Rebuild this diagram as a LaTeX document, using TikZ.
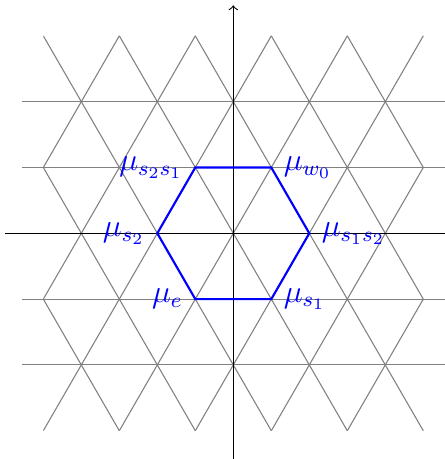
\documentclass[tikz,border=0pt]{standalone}
\usepackage{amsmath}
\usetikzlibrary{positioning}
\tikzset{
    lattice/.style={gray, thin},
    weight/.style={blue, font=\large, inner sep=0.45em}
}
\begin{document}
\begin{tikzpicture}[
    hexline/.style={blue, thick},
    axis/.style={->, black}
]
    \useasboundingbox (-3.07,-2.97) rectangle (2.78,3.07);

    % --- TRIANGULAR LATTICE ---
    \begin{scope}
        \clip (-2.5,-2.598) rectangle (2.5,2.598);
        \foreach \k in {-5,...,5} {
            \draw[lattice] (\k-1.5,-2.598) -- (\k+1.5,2.598);
            \draw[lattice] (\k+1.5,-2.598) -- (\k-1.5,2.598);
        }
    \end{scope}
    \foreach \j in {-2,...,2}
        \draw[lattice] (-2.78,\j*0.866) -- (2.78,\j*0.866);

    % --- AXES ---
    \coordinate (xmin) at (-3,0);
    \coordinate (xmax) at (3,0);
    \coordinate (ymin) at (0,-3);
    \coordinate (ymax) at (0,3);
    \draw[axis] (xmin) -- (xmax);
    \draw[axis] (ymin) -- (ymax);

    % --- WEYL ORBIT (HEXAGON) ---
    \foreach \name/\ang in {s1s2/0, w0/60, s2s1/120, s2/180, e/240, s1/300}
        \coordinate (\name) at (\ang:1);
    \draw[hexline] (e) -- (s1) -- (s1s2) -- (w0) -- (s2s1) -- (s2) -- cycle;

    % labels
    \node[weight, right] (lw0) at (w0) {$\mu_{w_0}$};
    \node[weight, left] (ls2s1) at (s2s1) {$\mu_{s_2s_1}$};
    \node[weight, left] (ls2) at (s2) {$\mu_{s_2}$};
    \node[weight, right] (ls1s2) at (s1s2) {$\mu_{s_1s_2}$};
    \node[weight, left] (le) at (e) {$\mu_e$};
    \node[weight, right] (ls1) at (s1) {$\mu_{s_1}$};

\end{tikzpicture}
\end{document}
